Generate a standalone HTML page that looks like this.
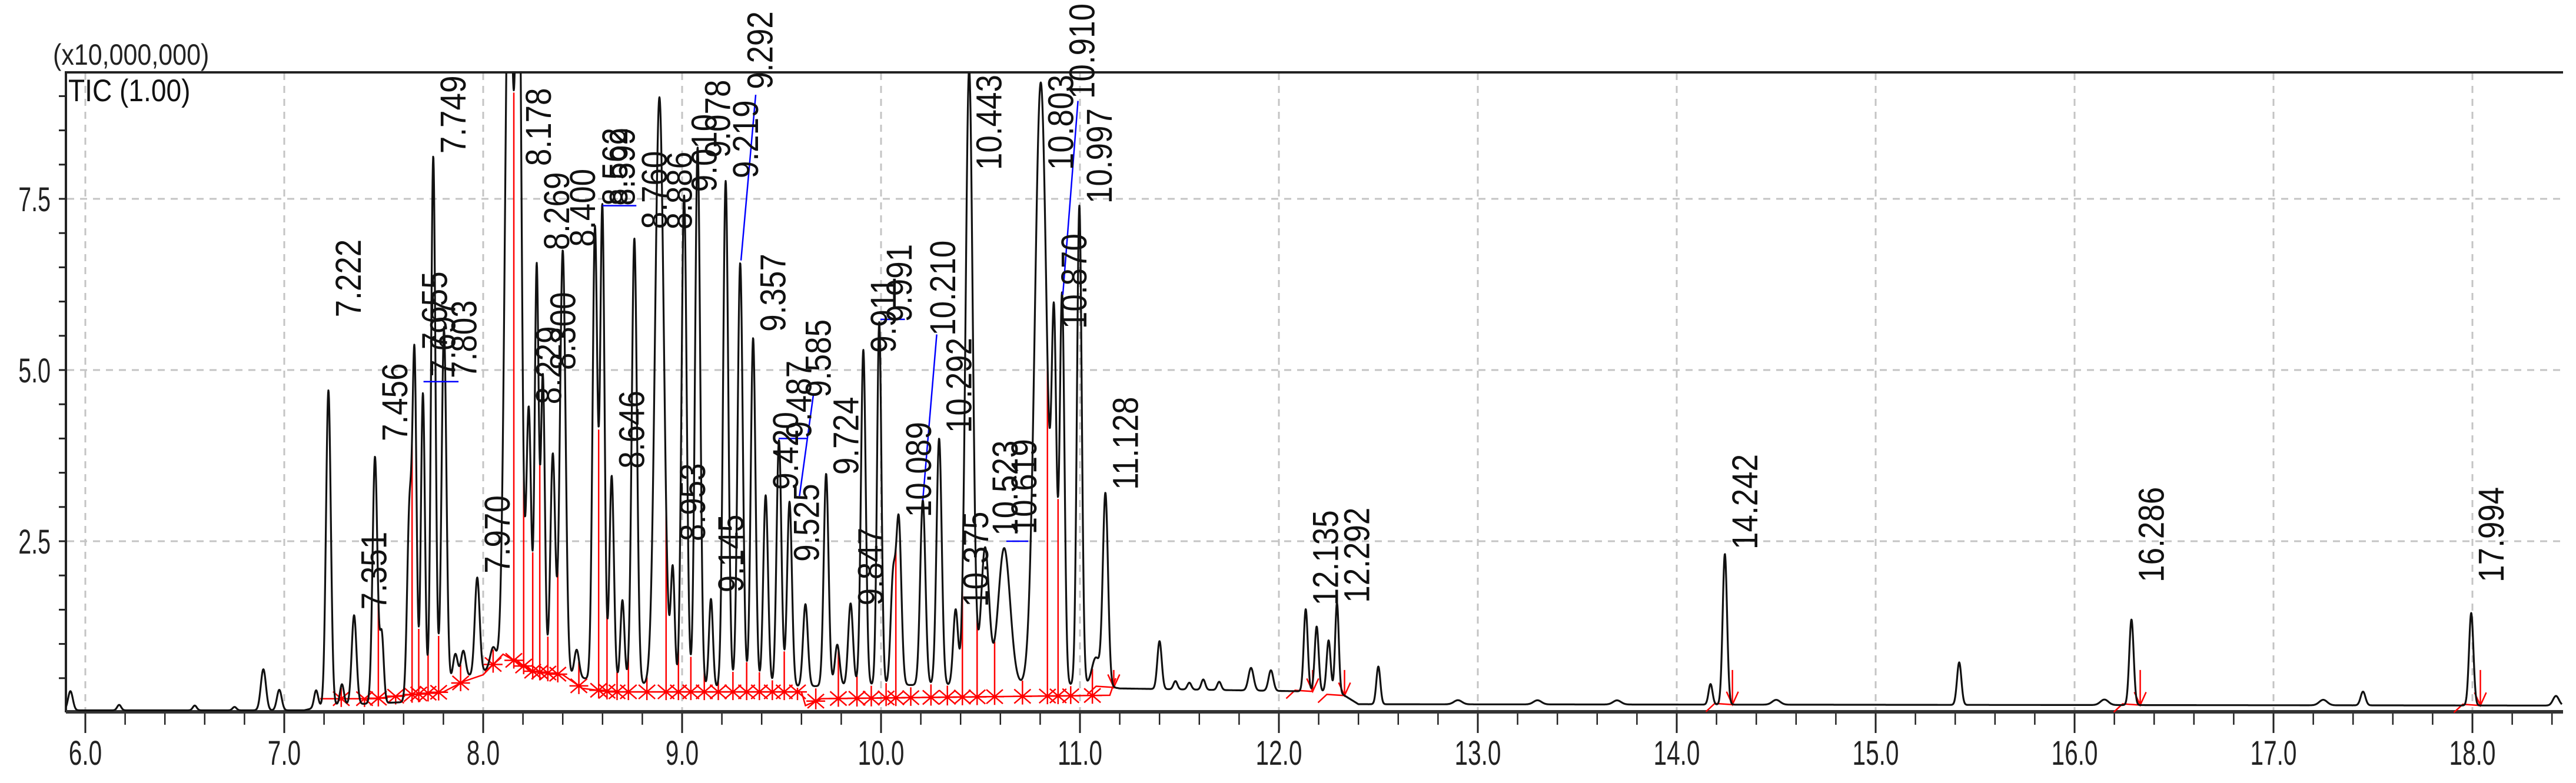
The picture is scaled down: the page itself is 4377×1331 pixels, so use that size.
<!DOCTYPE html>
<html><head><meta charset="utf-8"><style>
html,body{margin:0;padding:0;background:#fff;}
svg{display:block;}
</style></head><body>
<svg id="chart" xmlns="http://www.w3.org/2000/svg" width="4377" height="1331" viewBox="0 0 4377 1331">
<defs><clipPath id="plotclip"><rect x="112" y="124" width="4245" height="1090"/></clipPath></defs>
<rect x="0" y="0" width="4377" height="1331" fill="#fff"/>
<g id="grid"></g>
<g id="axes"></g>
<g id="red" clip-path="url(#plotclip)"></g>
<g id="curve" clip-path="url(#plotclip)"></g>
<g id="blue"></g>
<g id="labels"></g>
<text x="0" y="0" transform="translate(90,110) scale(0.86,1)" font-family="Liberation Sans, sans-serif" font-size="50" fill="#222">(x10,000,000)</text>
<text x="0" y="0" transform="translate(116,172) scale(0.87,1)" font-family="Liberation Sans, sans-serif" font-size="53" fill="#111">TIC (1.00)</text>
</svg>
<script>
// ---- data ----
const xTicks = [6,7,8,9,10,11,12,13,14,15,16,17,18];
const xTickLabels = ["6.0","7.0","8.0","9.0","10.0","11.0","12.0","13.0","14.0","15.0","16.0","17.0","18.0"];
const yTicks = [2.5,5.0,7.5];
const yTickLabels = ["2.5","5.0","7.5"];
const pkT = [5.925,6.17,6.55,6.75,6.895,6.975,7.16,7.222,7.29,7.351,7.456,7.49,7.63,7.655,7.697,7.749,7.803,7.86,7.90,7.970,8.05,8.13,8.178,8.229,8.269,8.300,8.35,8.400,8.47,8.562,8.599,8.646,8.70,8.760,8.886,8.953,9.010,9.078,9.145,9.219,9.292,9.357,9.420,9.487,9.540,9.62,9.724,9.78,9.847,9.911,9.991,10.06,10.089,10.210,10.292,10.375,10.443,10.523,10.619,10.803,10.870,10.910,10.997,11.08,11.128,11.40,11.48,11.55,11.62,11.70,11.86,11.96,12.135,12.19,12.25,12.292,12.50,12.9,13.3,13.7,14.17,14.242,14.5,15.42,16.15,16.286,17.25,17.45,17.994,18.42];
const pkH = [0.28,0.08,0.07,0.05,0.6,0.3,0.25,4.6,0.3,1.3,3.6,1.0,2.8,4.8,4.4,7.8,5.2,0.4,0.4,1.4,0.3,11,11,3.8,5.9,4.3,3.2,6.2,0.4,6.6,6.9,3.0,1.2,6.5,8.6,1.7,7.2,7.9,1.3,7.4,6.2,5.1,2.8,3.6,2.7,1.2,3.1,0.6,1.2,4.9,5.3,1.5,2.4,2.7,3.6,1.1,9.0,2.0,2.0,8.8,4.8,5.7,7.0,0.4,2.8,0.7,0.12,0.1,0.15,0.12,0.33,0.3,1.2,0.95,0.75,1.3,0.55,0.06,0.06,0.06,0.3,2.2,0.07,0.62,0.08,1.25,0.08,0.2,1.35,0.14];
const pkW = [0.012,0.01,0.01,0.01,0.013,0.012,0.01,0.012,0.01,0.012,0.012,0.01,0.012,0.01,0.01,0.011,0.012,0.012,0.012,0.012,0.015,0.02,0.015,0.012,0.01,0.01,0.012,0.014,0.012,0.012,0.011,0.011,0.01,0.013,0.022,0.01,0.013,0.013,0.01,0.013,0.013,0.012,0.012,0.012,0.012,0.012,0.012,0.012,0.012,0.012,0.011,0.012,0.013,0.013,0.013,0.012,0.018,0.02,0.03,0.03,0.012,0.012,0.012,0.02,0.013,0.011,0.01,0.01,0.01,0.01,0.013,0.012,0.01,0.01,0.01,0.009,0.01,0.02,0.02,0.02,0.01,0.011,0.02,0.011,0.02,0.011,0.02,0.012,0.011,0.015];
const baseT = [5.9,7.1,7.2,7.6,7.9,8.1,8.5,9.0,10.0,11.1,11.2,12.3,12.4,18.46];
const baseV = [0.03,0.03,0.1,0.15,0.5,0.7,0.5,0.35,0.4,0.4,0.35,0.3,0.12,0.1];
const lblTxt = ["7.222","7.351","7.456","7.655","7.697","7.749","7.803","7.970","8.178","8.229","8.269","8.300","8.400","8.562","8.599","8.646","8.760","8.886","8.953","9.010","9.078","9.145","9.219","9.292","9.357","9.420","9.487","9.525","9.585","9.724","9.847","9.911","9.991","10.089","10.210","10.292","10.375","10.443","10.523","10.619","10.803","10.870","10.910","10.997","11.128","12.135","12.292","14.242","16.286","17.994"];
const lblV = [5.77,1.5,3.96,5.3,4.9,8.16,4.88,2.03,7.98,4.5,6.75,5.0,6.8,7.4,7.4,3.56,7.06,7.05,2.5,7.6,8.1,1.75,7.8,9.1,5.56,3.25,4.0,2.2,4.6,3.47,1.56,5.25,5.7,2.85,5.5,4.08,1.54,7.92,2.58,2.6,7.92,5.6,8.96,7.43,3.25,1.56,1.6,2.38,1.9,1.9];
const blueT1 = [7.70,8.60,9.296,9.485,9.59,9.997,10.21,10.63,10.914];
const blueV1 = [4.83,7.4,6.6,4.0,3.16,5.74,3.1,2.5,6.1];
const blueT2 = [7.876,8.77,9.37,9.63,9.66,10.12,10.28,10.74,10.99];
const blueV2 = [4.83,7.4,9.02,4.0,4.64,5.74,5.52,2.5,8.93];
const redBT = [7.18,7.45,7.6,7.8,7.9,8.0,8.1,8.25,8.4,8.5,8.65,9.1,9.6,9.62,9.7,11.15,11.18];
const redBV = [0.2,0.2,0.25,0.3,0.45,0.55,0.85,0.6,0.55,0.35,0.3,0.3,0.3,0.1,0.2,0.25,0.5];
const arrowT = [11.17,12.17,12.33,14.28,16.33,18.04];

// ---- axes ----
const X0=145, XS=338, YB=1211, YS=116.4;
const xs = t => X0+(t-6)*XS;
const ys = v => YB-v*YS;
const NS="http://www.w3.org/2000/svg";
function mk(tag, attrs, parent){const e=document.createElementNS(NS,tag);for(const k in attrs)e.setAttribute(k,attrs[k]);parent.appendChild(e);return e;}
function interp(T,V,t){if(t<=T[0])return V[0];for(let i=1;i<T.length;i++){if(t<=T[i]){const f=(t-T[i-1])/(T[i]-T[i-1]);return V[i-1]+f*(V[i]-V[i-1]);}}return V[V.length-1];}
function sig(t){let v=interp(baseT,baseV,t);for(let i=0;i<pkT.length;i++){const d=(t-pkT[i])/pkW[i];if(Math.abs(d)<6)v+=pkH[i]*Math.exp(-0.5*d*d);}return v;}

const grid=document.getElementById('grid'), axes=document.getElementById('axes');
xTicks.forEach((t,i)=>{
  const l=mk('line',{x1:xs(t),x2:xs(t),y1:124,y2:1208,stroke:'#c4c4c4','stroke-width':3,'stroke-dasharray':'12 10'},grid);
  
  
  const tk=mk('line',{x1:xs(t),x2:xs(t),y1:1211,y2:1246,stroke:'#222','stroke-width':3},axes);
  
  
  const tx=mk('text',{x:0,y:0,transform:`translate(${xs(t)},1300) scale(0.7,1)`,'text-anchor':'middle','font-family':'Liberation Sans, sans-serif','font-size':58,fill:'#222'},axes);
  tx.textContent=xTickLabels[i];
  
  
});
for(let t=5.2;t<=18.45;t+=0.2){
  const tr=Math.round(t*10)/10;
  if(tr<5.9||Math.abs(tr-Math.round(tr))<0.01)continue;
  const m=mk('line',{x1:xs(tr),x2:xs(tr),y1:1211,y2:1232,stroke:'#222','stroke-width':2.5},axes);
  
  
}
yTicks.forEach((v,i)=>{
  const l=mk('line',{x1:114,x2:4353,y1:ys(v),y2:ys(v),stroke:'#c4c4c4','stroke-width':3,'stroke-dasharray':'12 10'},grid);
  
  
  const tx=mk('text',{x:0,y:0,transform:`translate(86,${ys(v)+21}) scale(0.68,1)`,'text-anchor':'end','font-family':'Liberation Sans, sans-serif','font-size':58,fill:'#222'},axes);
  tx.textContent=yTickLabels[i];
  
  
});
for(let v=0.5;v<9.4;v+=0.5){
  const m=mk('line',{x1:100,x2:112,y1:ys(v),y2:ys(v),stroke:'#222','stroke-width':3},axes);
  
  
}
let a=mk('line',{x1:112,x2:112,y1:122,y2:1211,stroke:'#222','stroke-width':4},axes);


a=mk('line',{x1:110,x2:4355,y1:123,y2:123,stroke:'#222','stroke-width':4},axes);


a=mk('line',{x1:112,x2:4355,y1:1210,y2:1210,stroke:'#333','stroke-width':6},axes);



// ---- red integration marks ----
const red=document.getElementById('red');
let rp='';
redBT.forEach((t,i)=>{rp+=(i?'L':'M')+xs(t).toFixed(1)+' '+ys(redBV[i]).toFixed(1);});
const rl=mk('path',{d:rp,fill:'none',stroke:'#f00','stroke-width':2.5},red);


const cl=[];for(let i=0;i<pkT.length;i++){if(pkT[i]>7.17&&pkT[i]<11.16&&pkH[i]>0.9)cl.push(pkT[i]);}
for(let i=0;i<cl.length-1;i++){
  const t=(cl[i]+cl[i+1])/2, x=xs(t), yb=ys(interp(redBT,redBV,t)), yt=ys(sig(t))+4;
  const g=mk('path',{d:`M${x} ${yb+14}L${x} ${Math.min(yt,yb)}M${x-14} ${yb-12}L${x+14} ${yb+12}M${x+14} ${yb-12}L${x-14} ${yb+12}M${x-16} ${yb}L${x+16} ${yb}`,fill:'none',stroke:'#f00','stroke-width':2.5},red);
  
  
}
arrowT.forEach(t=>{
  const x=xs(t), yb=ys(interp(baseT,baseV,t)), yt=ys(0.62);
  const g=mk('path',{d:`M${x} ${yt}L${x} ${yb}M${x-10} ${yb-22}L${x} ${yb}L${x+10} ${yb-22}M${x-45} ${yb+12}L${x-30} ${yb-2}L${x} ${yb}`,fill:'none',stroke:'#f00','stroke-width':2.5},red);
  
  
});

// ---- trace ----
let d='';
for(let x=112;x<=4353;x+=0.5){const t=6+(x-X0)/XS;d+=(x===112?'M':'L')+x+' '+ys(sig(t)).toFixed(1);}
const cp=mk('path',{d:d,fill:'none',stroke:'#111','stroke-width':3.2,'stroke-linejoin':'round'},document.getElementById('curve'));



// ---- blue leaders ----
const blue=document.getElementById('blue');
blueT1.forEach((t,i)=>{
  const l=mk('line',{x1:xs(t),y1:ys(blueV1[i]),x2:xs(blueT2[i]),y2:ys(blueV2[i]),stroke:'#00f','stroke-width':2.5},blue);
  
  
});

// ---- peak labels ----
const lab=document.getElementById('labels');
lblTxt.forEach((s,i)=>{
  const t=parseFloat(s);
  const tx=mk('text',{x:0,y:0,transform:`translate(${xs(t)+55},${ys(lblV[i])}) rotate(-90) scale(1,1.15)`,'font-family':'Liberation Sans, sans-serif','font-size':53,fill:'#111'},lab);
  tx.textContent=s;
  
  
});
</script>
</body></html>
